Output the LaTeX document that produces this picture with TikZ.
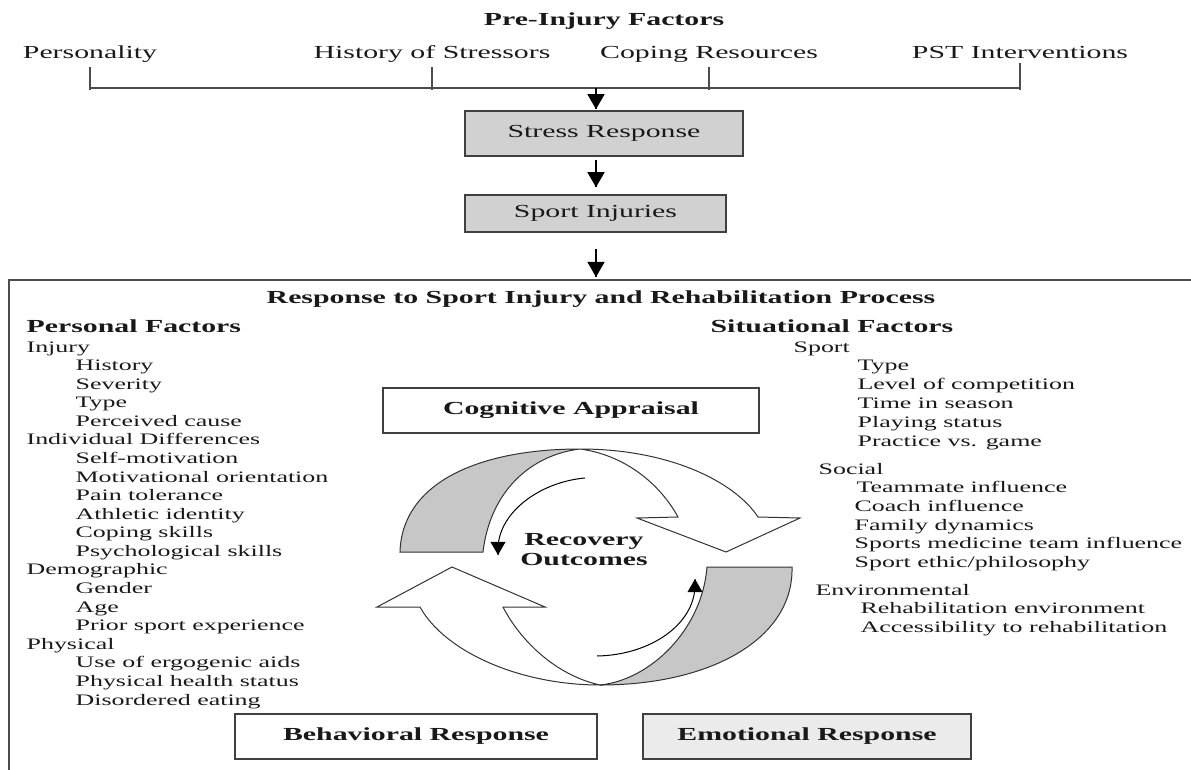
\documentclass[tikz,border=0pt]{standalone}
\usepackage{fontspec}
\setmainfont{Liberation Serif}[FakeStretch=1.62]
\usetikzlibrary{arrows}
\usetikzlibrary{decorations.markings}
\usetikzlibrary{positioning}
\tikzset{->/.style = {decoration={markings,
                                  mark=at position 1 with {\arrow[scale=1.8]{triangle 60}}},
                      postaction={decorate}}}
\tikzset{stage/.style = {draw = black!75, line width = 1.5pt, fill = black!18,
                         font = \fontsize{18.4}{22}\selectfont},
         phase/.style = {draw = black!75, line width = 1.5pt, fill = white, minimum height = 45pt,
                         font = \fontsize{18.4}{22}\selectfont\bfseries},
         head/.style = {inner sep = 0pt, font = \fontsize{18.4}{20}\selectfont\bfseries},
         factor/.style = {inner sep = 3pt, font = \fontsize{18.4}{22}\selectfont},
         item/.style = {anchor = base west, inner sep = 0pt, font = \fontsize{16}{19}\selectfont},
         ribbon/.style = {draw = black!80, line width = 1pt}}

\begin{document}
\begin{tikzpicture}[x = 1pt, y = -1pt, line width = 1.3pt, text = black!90]
      \useasboundingbox (0, 0) rectangle (1191, 770);

      % pre-injury part
      \node [head, anchor = base] (pre) at (604, 26) {Pre-Injury Factors};
      \node [factor, anchor = base] (personality) at (90, 59) {Personality};
      \node [factor, anchor = base] (stressors) at (432, 59) {History of Stressors};
      \node [factor, anchor = base] (resources) at (709, 59) {Coping Resources};
      \node [factor, anchor = base] (pst) at (1020, 59) {PST Interventions};
      \coordinate (split) at (596, 88);
      \draw [line width = 1.5pt, black!70] (personality.south |- split) -- (pst.south |- split);
      \foreach \n in {personality, stressors, resources, pst}
        \draw [line width = 1.5pt, black!70] (\n.south) -- ([yshift = -2pt] \n.south |- split);

      \node [stage, minimum width = 278pt, minimum height = 45pt] (stress) at (604, 133.5) {Stress Response};
      \node [stage, minimum width = 261pt, minimum height = 37pt] (injuries) at (595.5, 213.5) {Sport Injuries};
      \coordinate (process) at (596, 280);
      \draw [->] (split) -- ([yshift = 1pt] split |- stress.north);
      \draw [->] ([yshift = -3pt] split |- stress.south) -- ([yshift = 7pt] split |- injuries.north);
      \draw [->] ([yshift = -16pt] split |- injuries.south) -- ([yshift = 3pt] process);

      % rehabilitation process
      \draw [line width = 1.5pt, black!70] (9, 772) -- (9, 280) -- (1193, 280);
      \node [head, anchor = base] (title) at (601, 303) {Response to Sport Injury and Rehabilitation Process};
      \node [head, anchor = base west] (personal) at (26, 332) {Personal Factors};
      \node [head, anchor = base west] (situational) at (710, 332) {Situational Factors};

      \foreach \lvl/\txt [count = \i] in {0/Injury, 1/History, 1/Severity, 1/Type, 1/Perceived cause,
          0/Individual Differences, 1/Self-motivation, 1/Motivational orientation, 1/Pain tolerance,
          1/Athletic identity, 1/Coping skills, 1/Psychological skills, 0/Demographic, 1/Gender, 1/Age,
          1/Prior sport experience, 0/Physical, 1/Use of ergogenic aids, 1/Physical health status,
          1/Disordered eating}
        \node [item] (personal-\i) at ({26 + 49*\lvl}, {352 + 18.58*(\i - 1)}) {\txt};

      \foreach \x/\y/\txt [count = \i] in {793/352/Sport, 857/370/Type, 857/389/Level of competition,
          857/408/Time in season, 857/427/Playing status, 857/446/Practice vs. game, 818/474/Social,
          856/492/Teammate influence, 854/511/Coach influence, 854/530/Family dynamics,
          854/548/Sports medicine team influence, 854/567/{Sport ethic/philosophy}, 815/595/Environmental,
          860/613/Rehabilitation environment, 860/632/Accessibility to rehabilitation}
        \node [item] (situational-\i) at (\x, \y) {\txt};

      % cycle
      \filldraw [ribbon, fill = black!22] (400, 552) .. controls (402, 482) and (480, 449) .. (580, 449)
        .. controls (530, 455) and (490, 492) .. (483, 552) -- cycle;
      \filldraw [ribbon, fill = white] (580, 449) .. controls (670, 449) and (735, 482) .. (758, 517)
        -- (800, 518) -- (726, 552) -- (637, 518) -- (678, 517)
        .. controls (660, 484) and (625, 455) .. (580, 449) -- cycle;
      \filldraw [ribbon, fill = black!22] (792, 567) .. controls (794, 638) and (712, 685) .. (600, 685)
        .. controls (650, 680) and (702, 630) .. (707, 567) -- cycle;
      \filldraw [ribbon, fill = white] (600, 685) .. controls (520, 685) and (445, 652) .. (420, 607)
        -- (377, 607) -- (452, 567) -- (545, 607) -- (503, 607)
        .. controls (520, 640) and (555, 675) .. (600, 685) -- cycle;
      \draw [->, line width = 1pt] (585, 478) .. controls (540, 482) and (499, 512) .. (498, 548) -- (498, 555);
      \draw [->, line width = 1pt] (597, 656) .. controls (650, 655) and (694, 625) .. (695, 586) -- (695, 579);
      \node [head, align = center] (outcomes) at (584, 550) {Recovery\\Outcomes};

      \node [phase, minimum width = 376pt] (cognitive) at (571, 410.5) {Cognitive Appraisal};
      \node [phase, minimum width = 362pt] (behavioral) at (416, 736.5) {Behavioral Response};
      \node [phase, minimum width = 328pt, fill = black!8] (emotional) at (807, 736.5) {Emotional Response};
\end{tikzpicture}
\end{document}
